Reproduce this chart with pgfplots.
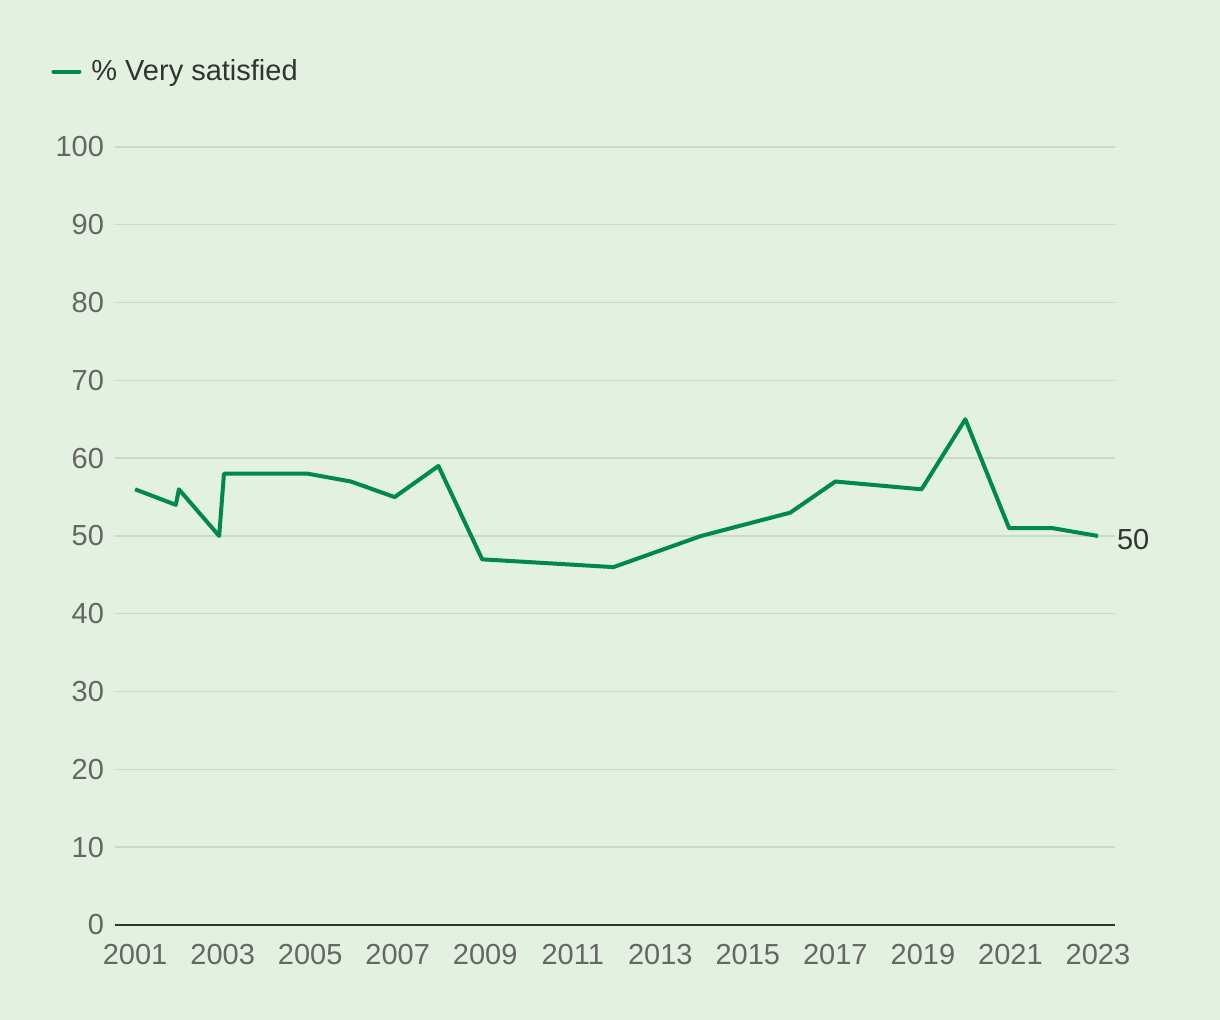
\documentclass[border=0pt]{standalone}
\usepackage{pgfplots}
\pgfplotsset{compat=1.18}
\usepackage{fontspec}
\setmainfont{Liberation Sans}
\definecolor{bg}{HTML}{E3F1E0}
\definecolor{ln}{HTML}{008A4A}
\definecolor{gridc}{HTML}{CCD9CA}
\definecolor{tick}{HTML}{666666}
\definecolor{dark}{HTML}{333333}
\begin{document}
\begin{tikzpicture}
\fill[bg] (0,0) rectangle (610pt,510pt);
\begin{axis}[
  at={(57.5pt,47.5pt)}, anchor=south west,
  width=500pt, height=389pt, scale only axis,
  xmin=2000.54, xmax=2023.39, ymin=0, ymax=100,
  axis x line*=bottom, axis y line*=left,
  x axis line style={dark, line width=1pt, -},
  y axis line style={draw=none},
  ytick={0,10,...,100},
  xtick={2001,2003,...,2023},
  ymajorgrids, grid style={gridc, line width=0.7pt},
  major tick length=0pt,
  tick label style={font=\fontsize{14.5}{17}\selectfont, text=tick},
  /pgf/number format/assume math mode=true,
  /pgf/number format/1000 sep={},
  xticklabel style={yshift=-6pt},
  yticklabel style={xshift=-2pt},
  clip=false,
  legend style={at={(axis description cs:-0.064,1.097)}, anchor=west, draw=none, fill=none,
    font=\fontsize{14.5}{17}\selectfont, text=dark, inner sep=0pt},
  legend image code/.code={\draw[line width=2pt,ln,line cap=round] (0pt,0pt) -- (13pt,0pt);},
]
\addplot[ln, line width=2pt, line join=round] coordinates {
(2001.0,56) (2001.93,54) (2002.0,56) (2002.92,50) (2003.03,58) (2004.95,58)
(2005.93,57) (2006.93,55) (2007.93,59) (2008.93,47) (2011.93,46) (2013.93,50)
(2015.97,53) (2017.0,57) (2018.97,56) (2019.97,65) (2020.97,51) (2021.97,51)
(2023.0,50)};
\addlegendentry{\hspace{3pt}\% Very satisfied}
\node[anchor=west, font=\fontsize{14.5}{17}\selectfont, text=dark] at (axis cs:2023,50) [xshift=6pt, yshift=-2pt] {50};
\end{axis}
\end{tikzpicture}
\end{document}
